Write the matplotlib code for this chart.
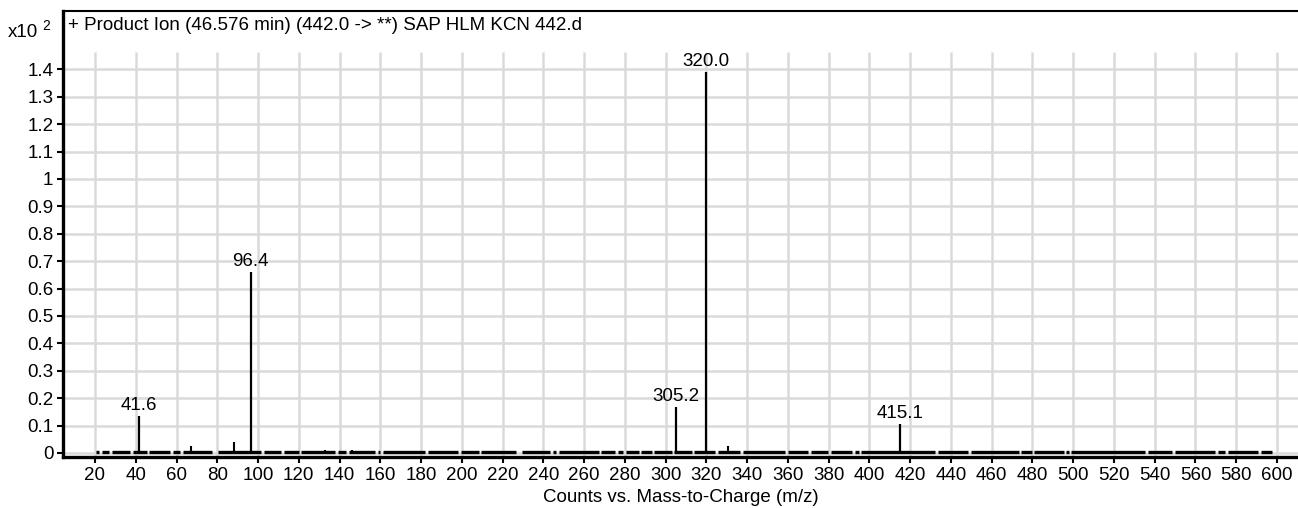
import matplotlib
matplotlib.use("Agg")
import matplotlib.pyplot as plt

plt.rcParams['font.family'] = ['Liberation Sans', 'DejaVu Sans']

# labelled fragment peaks (m/z, intensity x10^2)
peak_mz = [41.6, 96.4, 305.2, 320.0, 415.1]
peak_int = [0.135, 0.66, 0.167, 1.39, 0.105]

# minor unlabelled peaks
minor_mz = [67.2, 88.4, 132.8, 146.2, 330.8]
minor_int = [0.025, 0.04, 0.012, 0.01, 0.027]

# m/z ranges covered by baseline noise
noise_segments = [
    (20.5, 21.8), (23.2, 26.7), (28.1, 37.3), (38.7, 45.3), (46.7, 56.9),
    (58.3, 61.8), (63.2, 77.3), (80.4, 101.3), (102.7, 111.3), (112.7, 119.9),
    (121.3, 137.9), (139.3, 143.3), (144.7, 157.3), (158.7, 160.0), (161.4, 182.0),
    (183.4, 198.3), (199.7, 208.2), (209.6, 226.8), (229.6, 243.3), (244.7, 246.3),
    (247.7, 267.1), (268.5, 275.3), (276.7, 279.3), (280.7, 286.7), (288.1, 293.1),
    (294.5, 302.9), (304.3, 312.7), (314.1, 324.3), (325.7, 336.6), (338.0, 358.7),
    (360.1, 370.1), (371.5, 379.9), (381.3, 391.3), (392.7, 394.7), (396.1, 432.3),
    (433.7, 448.6), (450.0, 473.2), (474.6, 479.6), (481.0, 495.3), (496.7, 497.7),
    (499.1, 535.3), (536.7, 548.3), (549.7, 569.7), (571.1, 574.6), (576.0, 590.9),
    (592.3, 597.5),
]
noise_level = 0.004

x_ticks = list(range(20, 601, 20))
y_ticks = [0, 0.1, 0.2, 0.3, 0.4, 0.5, 0.6, 0.7, 0.8, 0.9, 1.0, 1.1, 1.2, 1.3, 1.4]
y_labels = ["0", "0.1", "0.2", "0.3", "0.4", "0.5", "0.6", "0.7", "0.8", "0.9",
            "1", "1.1", "1.2", "1.3", "1.4"]

title = "+ Product Ion (46.576 min) (442.0 -> **) SAP HLM KCN 442.d"

W, H = 1298, 508
fs = 13.5
fig = plt.figure(figsize=(W / 100, H / 100), dpi=100)
ax = fig.add_axes([63 / W, 51 / H, 1 - 63 / W, (457 - 11) / H])

xmin, xmax = 4.3, 610.3
ymin, ymax = -0.0146, 1.613
ax.set_xlim(xmin, xmax)
ax.set_ylim(ymin, ymax)

grid_c = "#dadada"
ax.vlines(x_ticks, ymin, 1.465, color=grid_c, lw=1.8, zorder=0)
ax.hlines(y_ticks, xmin, xmax, color=grid_c, lw=1.8, zorder=0)

# baseline noise band
for a, b in noise_segments:
    ax.hlines(noise_level, a, b, color="black", lw=2.4, zorder=2)

ax.vlines(minor_mz, 0, minor_int, color="black", lw=1.5, zorder=3)
ax.vlines(peak_mz, 0, peak_int, color="black", lw=1.6, zorder=3)
for mz, h in zip(peak_mz, peak_int):
    ax.annotate(f"{mz:.1f}", (mz, h), xytext=(0, 1.5), textcoords="offset points",
                ha="center", va="bottom", fontsize=fs)

ax.set_xticks(x_ticks)
ax.set_xticklabels([str(v) for v in x_ticks])
ax.set_yticks(y_ticks)
ax.set_yticklabels(y_labels)
ax.tick_params(direction="out", length=4.5, width=1.5, labelsize=fs, pad=2.5)

for s in ("left", "bottom"):
    ax.spines[s].set_linewidth(2.4)
ax.spines["top"].set_linewidth(1.5)
ax.spines["right"].set_visible(False)

ax.set_xlabel("Counts vs. Mass-to-Charge (m/z)", fontsize=fs, labelpad=4)

ax.text(5 / (W - 63), 1 - 15 / 446, title, transform=ax.transAxes,
        ha="left", va="center", fontsize=fs)
fig.text(8 / W, 1 - 37 / H, "x10", ha="left", va="baseline", fontsize=fs)
fig.text(42 / W, 1 - 30 / H, "2", ha="left", va="baseline", fontsize=10)

fig.savefig("out.png", dpi=100)
